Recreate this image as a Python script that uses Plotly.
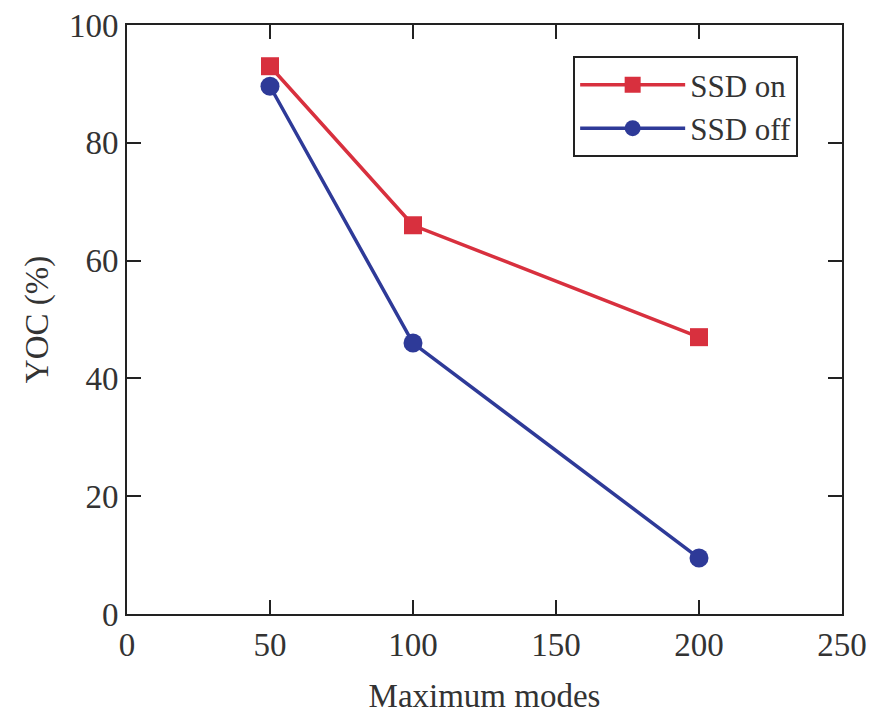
import plotly.graph_objects as go

modes = [50, 100, 200]
ssd_on = [93.0, 66.0, 47.0]
ssd_off = [89.6, 46.0, 9.5]
x_ticks = [0, 50, 100, 150, 200, 250]
y_ticks = [0, 20, 40, 60, 80, 100]

RED = "#d8303e"
BLUE = "#2e3a98"
FONT = "Liberation Serif"
FS = 33

fig = go.Figure()
fig.add_trace(go.Scatter(x=modes, y=ssd_on, name="SSD on", mode="lines+markers",
                         line=dict(color=RED, width=3.5),
                         marker=dict(symbol="square", size=18, color=RED)))
fig.add_trace(go.Scatter(x=modes, y=ssd_off, name="SSD off", mode="lines+markers",
                         line=dict(color=BLUE, width=3.5),
                         marker=dict(symbol="circle", size=19, color=BLUE)))

axis_common = dict(showline=True, linecolor="#222", linewidth=2, mirror="ticks",
                   ticks="inside", ticklen=14, tickwidth=2, tickcolor="#222",
                   showgrid=False, zeroline=False, automargin=False,
                   tickfont=dict(family=FONT, size=FS, color="#333"))

fig.update_xaxes(range=[0, 250], tickvals=x_ticks,
                 title=dict(text="Maximum modes", font=dict(family=FONT, size=FS, color="#333"),
                            standoff=24),
                 **axis_common)
fig.update_yaxes(range=[0, 100], tickvals=y_ticks,
                 title=dict(text="YOC (%)", font=dict(family=FONT, size=FS, color="#333"),
                            standoff=10),
                 **axis_common)

fig.update_layout(
    width=890, height=714,
    margin=dict(l=127, r=48, t=25, b=100),
    paper_bgcolor="white", plot_bgcolor="white",
    font=dict(family=FONT, size=FS, color="#333"),
    legend=dict(x=0.624, y=0.947, xanchor="left", yanchor="top",
                bordercolor="#222", borderwidth=2, bgcolor="white",
                font=dict(family=FONT, size=31, color="#333"),
                itemwidth=105, tracegroupgap=0),
    showlegend=True,
)

fig.write_html("out.html")
